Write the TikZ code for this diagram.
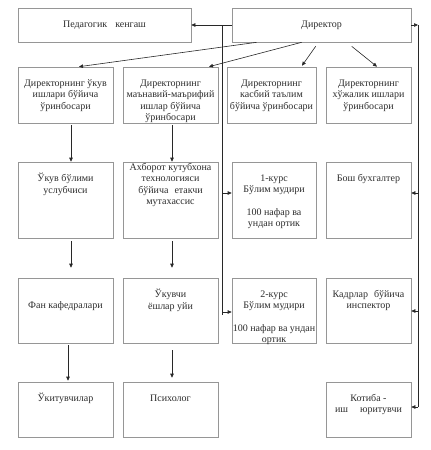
\documentclass[tikz,border=0pt]{standalone}
\usepackage{fontspec}
\setmainfont{Liberation Serif}
\usetikzlibrary{arrows.meta,calc}
\definecolor{boxgray}{RGB}{150,150,150}
\definecolor{txtc}{RGB}{45,45,45}
\definecolor{linec}{RGB}{40,40,40}
\begin{document}
\begin{tikzpicture}[x=1pt,y=-1pt,
  box/.style={draw=boxgray, line width=0.6pt, inner sep=0pt, rectangle, font=\rmfamily\fontsize{10}{11.5}\selectfont, text=txtc},
  txt/.style={anchor=north, inner sep=0pt, align=center, font=\rmfamily\fontsize{10}{11.5}\selectfont, text=txtc},
  conn/.style={draw=linec, line width=0.6pt},
  arr/.style={conn, -{Triangle[length=4pt,width=3.5pt]}}]
\fill[white] (0,0) rectangle (431,450);
\useasboundingbox (0,0) rectangle (431,450);

% top row
\node[box, minimum width=173pt, minimum height=34pt] (ped) at (104.5,25) {Педагогик\hspace{0.8em}кенгаш};
\node[box, minimum width=179pt, minimum height=34pt] (dir) at (321.5,25) {Директор};

% row 2
\node[box, minimum width=95pt, minimum height=56pt] (r2a) at (65.5,95) {};
\node[box, minimum width=95pt, minimum height=56pt] (r2b) at (170.5,95) {};
\node[box, minimum width=89pt, minimum height=56pt] (r2c) at (271.5,95) {};
\node[box, minimum width=85pt, minimum height=56pt] (r2d) at (368.5,95) {};
% row 3
\node[box, minimum width=95pt, minimum height=76pt] (r3a) at (65.5,200) {};
\node[box, minimum width=95pt, minimum height=76pt] (r3b) at (170.5,200) {};
\node[box, minimum width=84pt, minimum height=76pt] (r3c) at (274,200) {};
\node[box, minimum width=85pt, minimum height=76pt] (r3d) at (368.5,200) {};
% row 4
\node[box, minimum width=95pt, minimum height=65pt] (r4a) at (65.5,310.5) {};
\node[box, minimum width=95pt, minimum height=65pt] (r4b) at (170.5,310.5) {};
\node[box, minimum width=84pt, minimum height=65pt] (r4c) at (274,310.5) {};
\node[box, minimum width=85pt, minimum height=65pt] (r4d) at (368.5,310.5) {};
% row 5
\node[box, minimum width=95pt, minimum height=55pt] (r5a) at (65.5,409.5) {};
\node[box, minimum width=95pt, minimum height=55pt] (r5b) at (170.5,409.5) {};
\node[box, minimum width=85pt, minimum height=55pt] (r5d) at (368.5,409.5) {};

% texts
\node[txt] (t2a) at ($(r2a.north)+(0,11.3)$) {\rule{0pt}{8pt}Директорнинг ўкув\\ишлари бўйича\\ўринбосари};
\node[txt] (t2b) at ($(r2b.north)+(0,11.3)$) {\rule{0pt}{8pt}Директорнинг\\маънавий-маърифий\\ишлар бўйича\\ўринбосари};
\node[txt] (t2c) at ($(r2c.north)+(0,11.3)$) {\rule{0pt}{8pt}Директорнинг\\касбий таълим\\бўйича ўринбосари};
\node[txt] (t2d) at ($(r2d.north)+(0,11.3)$) {\rule{0pt}{8pt}Директорнинг\\хўжалик ишлари\\ўринбосари};

\node[txt] (t3a) at ($(r3a.north)+(0,11.3)$) {\rule{0pt}{8pt}Ўкув бўлими\\услубчиси};
\node[txt] (t3b) at ($(r3b.north)+(0,0.5)$) {\rule{0pt}{8pt}Ахборот кутубхона\\технологияси\\бўйича\hspace{0.6em}етакчи\\мутахассис};
\node[txt] (t3c) at ($(r3c.north)+(0,11.3)$) {\rule{0pt}{8pt}1-курс\\Бўлим мудири\\[11pt]100 нафар ва\\ундан ортик};
\node[txt] (t3d) at ($(r3d.north)+(0,11.3)$) {\rule{0pt}{8pt}Бош бухгалтер};

\node[txt] (t4a) at ($(r4a.north)+(0,22.3)$) {\rule{0pt}{8pt}Фан кафедралари};
\node[txt] (t4b) at ($(r4b.north)+(0,11.3)$) {\rule{0pt}{8pt}Ўкувчи\\ёшлар уйи};
\node[txt] (t4c) at ($(r4c.north)+(0,11.3)$) {\rule{0pt}{8pt}2-курс\\Бўлим мудири\\[11pt]100 нафар ва ундан\\ортик};
\node[txt] (t4d) at ($(r4d.north)+(0,11.3)$) {\rule{0pt}{8pt}Кадрлар\hspace{0.6em}бўйича\\инспектор};

\node[txt] (t5a) at ($(r5a.north)+(0,11.3)$) {\rule{0pt}{8pt}Ўкитувчилар};
\node[txt] (t5b) at ($(r5b.north)+(0,11.3)$) {\rule{0pt}{8pt}Психолог};
\node[txt] (t5d) at ($(r5d.north)+(0,11.3)$) {\rule{0pt}{8pt}Котиба -\\иш\hspace{1.2em}юритувчи};

% director to pedagogik and left bus
\draw[arr] (dir.west) -- (ped.east);
\coordinate (lv1) at (222,25);
\coordinate (lv2) at (222,315);
\draw[conn] (lv1) -- (lv2);
\coordinate (lb1) at (222,193);
\coordinate (lb2) at (222,312);
\draw[arr] (lb1) -- (lb1 -| r3c.west);
\draw[arr] (lb2) -- (lb2 -| r4c.west);

% right bus
\coordinate (rv1) at (418,25);
\coordinate (rv2) at (418,407);
\draw[arr] (dir.east) -- (rv1);
\draw[conn] (rv1) -- (rv2);
\coordinate (rb1) at (418,193);
\coordinate (rb2) at (418,311);
\draw[arr] (rb1) -- (rb1 -| r3d.east);
\draw[arr] (rb2) -- (rb2 -| r4d.east);
\draw[arr] (rv2) -- (rv2 -| r5d.east);

% director to deputies
\draw[arr] ($(dir.south west)+(25,0)$) -- ($(r2a.north)+(13.5,0)$);
\draw[arr] ($(dir.south west)+(70,0)$) -- ($(r2b.north)+(38.5,0)$);
\draw[arr] ($(dir.south west)+(84,4)$) -- ($(r2c.north)+(30.5,-1)$);
\draw[arr] ($(dir.south west)+(120,4)$) -- ($(r2d.north)+(8.5,0)$);

% vertical chains
\draw[arr] ($(r2a.south)+(5.5,2)$) -- ($(r3a.north)+(5.5,0)$);
\draw[arr] ($(r2b.south)+(1.5,2)$) -- ($(r3b.north)+(1.5,0)$);
\draw[arr] ($(r3a.south)+(5.5,3)$) -- ($(r4a.north)+(5.5,-10)$);
\draw[arr] ($(r3b.south)+(1.5,3)$) -- ($(r4b.north)+(1.5,-10)$);
\draw[arr] ($(r4a.south)+(2.5,2)$) -- ($(r5a.north)+(2.5,-1)$);
\draw[arr] ($(r4b.south)+(1.5,7)$) -- ($(r5b.north)+(1.5,-4)$);
\end{tikzpicture}
\end{document}
